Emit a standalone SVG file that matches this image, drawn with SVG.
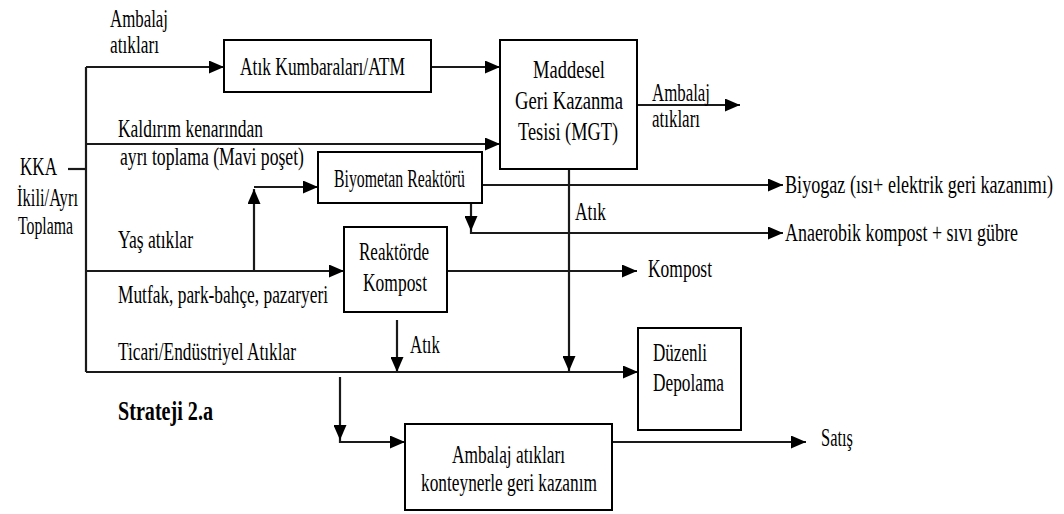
<svg xmlns="http://www.w3.org/2000/svg" width="1064" height="514" viewBox="0 0 1064 514">
<defs>
<style>
.t{font-family:'Liberation Serif','Times New Roman',serif;font-size:18px;fill:#000}
.b{font-weight:bold;font-size:19.5px}
.box{fill:#fff;stroke:#000;stroke-width:2}
.ln{fill:none;stroke:#1a1a1a;stroke-width:2.2}
.ar{marker-end:url(#ah)}
</style>
<marker id="ah" markerUnits="userSpaceOnUse" markerWidth="15" markerHeight="13" refX="15" refY="6.5" orient="auto">
<path d="M0,0 L15,6.5 L0,13 z" fill="#000"/>
</marker>
</defs>
<rect width="1064" height="514" fill="#fff"/>

<g id="connectors">
<path class="ln" d="M86,67 V372"/>
<path class="ln" d="M68,169 H86"/>
<path class="ln ar" d="M86,67 H224"/>
<path class="ln ar" d="M431,67 H500"/>
<path class="ln ar" d="M86,144 H500"/>
<path class="ln ar" d="M637,105 H740"/>
<path class="ln ar" d="M482,185 H783"/>
<path class="ln ar" d="M471,203 V231"/>
<path class="ln ar" d="M471,231 V233 H783"/>
<path class="ln ar" d="M254,270 V189"/>
<path class="ln ar" d="M254,187 H318"/>
<path class="ln ar" d="M86,271 H344"/>
<path class="ln ar" d="M447,271 H637"/>
<path class="ln ar" d="M569,169 V371"/>
<path class="ln ar" d="M397,320 V372"/>
<path class="ln ar" d="M86,372 H638"/>
<path class="ln ar" d="M340,377 V440"/>
<path class="ln ar" d="M340,440 V442 H405"/>
<path class="ln ar" d="M612,442 H806"/>
</g>

<g id="labels">
<text class="t" transform="translate(110,27) scale(1,1.35)" textLength="58" lengthAdjust="spacingAndGlyphs">Ambalaj</text>
<text class="t" transform="translate(110,53) scale(1,1.35)" textLength="49" lengthAdjust="spacingAndGlyphs">atıkları</text>
<text class="t" transform="translate(20,175) scale(1,1.35)" textLength="37" lengthAdjust="spacingAndGlyphs">KKA</text>
<text class="t" transform="translate(17,206) scale(1,1.35)" textLength="61" lengthAdjust="spacingAndGlyphs">İkili/Ayrı</text>
<text class="t" transform="translate(18,234) scale(1,1.35)" textLength="55" lengthAdjust="spacingAndGlyphs">Toplama</text>
<text class="t" transform="translate(118,137) scale(1,1.35)" textLength="145" lengthAdjust="spacingAndGlyphs">Kaldırım kenarından</text>
<text class="t" transform="translate(120,165) scale(1,1.35)" textLength="184" lengthAdjust="spacingAndGlyphs">ayrı toplama (Mavi poşet)</text>
<text class="t" transform="translate(118,248) scale(1,1.35)" textLength="75" lengthAdjust="spacingAndGlyphs">Yaş atıklar</text>
<text class="t" transform="translate(118,303) scale(1,1.35)" textLength="210" lengthAdjust="spacingAndGlyphs">Mutfak, park-bahçe, pazaryeri</text>
<text class="t" transform="translate(118,360) scale(1,1.35)" textLength="178" lengthAdjust="spacingAndGlyphs">Ticari/Endüstriyel Atıklar</text>
<text class="t b" transform="translate(118,420) scale(1,1.35)" textLength="95" lengthAdjust="spacingAndGlyphs">Strateji 2.a</text>
<text class="t" transform="translate(652,101) scale(1,1.35)" textLength="58" lengthAdjust="spacingAndGlyphs">Ambalaj</text>
<text class="t" transform="translate(652,127) scale(1,1.35)" textLength="48" lengthAdjust="spacingAndGlyphs">atıkları</text>
<text class="t" transform="translate(575,220) scale(1,1.35)" textLength="31" lengthAdjust="spacingAndGlyphs">Atık</text>
<text class="t" transform="translate(785,193) scale(1,1.35)" textLength="268" lengthAdjust="spacingAndGlyphs">Biyogaz (ısı+ elektrik geri kazanımı)</text>
<text class="t" transform="translate(785,241) scale(1,1.35)" textLength="233" lengthAdjust="spacingAndGlyphs">Anaerobik kompost + sıvı gübre</text>
<text class="t" transform="translate(648,277) scale(1,1.35)" textLength="64" lengthAdjust="spacingAndGlyphs">Kompost</text>
<text class="t" transform="translate(410,353) scale(1,1.35)" textLength="30" lengthAdjust="spacingAndGlyphs">Atık</text>
<text class="t" transform="translate(821,446) scale(1,1.35)" textLength="32" lengthAdjust="spacingAndGlyphs">Satış</text>
</g>

<g id="node-atm">
<rect class="box" x="224" y="40" width="207" height="52"/>
<text class="t" transform="translate(240,75) scale(1,1.35)" textLength="165" lengthAdjust="spacingAndGlyphs">Atık Kumbaraları/ATM</text>
</g>

<g id="node-mgt">
<rect class="box" x="500" y="40" width="137" height="129"/>
<text class="t" transform="translate(533,78) scale(1,1.35)" textLength="72" lengthAdjust="spacingAndGlyphs">Maddesel</text>
<text class="t" transform="translate(515,109) scale(1,1.35)" textLength="108" lengthAdjust="spacingAndGlyphs">Geri Kazanma</text>
<text class="t" transform="translate(518,140) scale(1,1.35)" textLength="100" lengthAdjust="spacingAndGlyphs">Tesisi (MGT)</text>
</g>

<g id="node-biyometan">
<rect class="box" x="318" y="152" width="164" height="51"/>
<text class="t" transform="translate(334,187) scale(1,1.35)" textLength="131" lengthAdjust="spacingAndGlyphs">Biyometan Reaktörü</text>
</g>

<g id="node-kompost">
<rect class="box" x="344" y="227" width="103" height="85"/>
<text class="t" transform="translate(359,260) scale(1,1.35)" textLength="70" lengthAdjust="spacingAndGlyphs">Reaktörde</text>
<text class="t" transform="translate(363,291) scale(1,1.35)" textLength="64" lengthAdjust="spacingAndGlyphs">Kompost</text>
</g>

<g id="node-depolama">
<rect class="box" x="638" y="328" width="103" height="102"/>
<text class="t" transform="translate(653,361) scale(1,1.35)" textLength="54" lengthAdjust="spacingAndGlyphs">Düzenli</text>
<text class="t" transform="translate(653,391) scale(1,1.35)" textLength="71" lengthAdjust="spacingAndGlyphs">Depolama</text>
</g>

<g id="node-konteyner">
<rect class="box" x="405" y="424" width="207" height="86"/>
<text class="t" transform="translate(452,463) scale(1,1.35)" textLength="113" lengthAdjust="spacingAndGlyphs">Ambalaj atıkları</text>
<text class="t" transform="translate(421,491) scale(1,1.35)" textLength="176" lengthAdjust="spacingAndGlyphs">konteynerle geri kazanım</text>
</g>
</svg>
